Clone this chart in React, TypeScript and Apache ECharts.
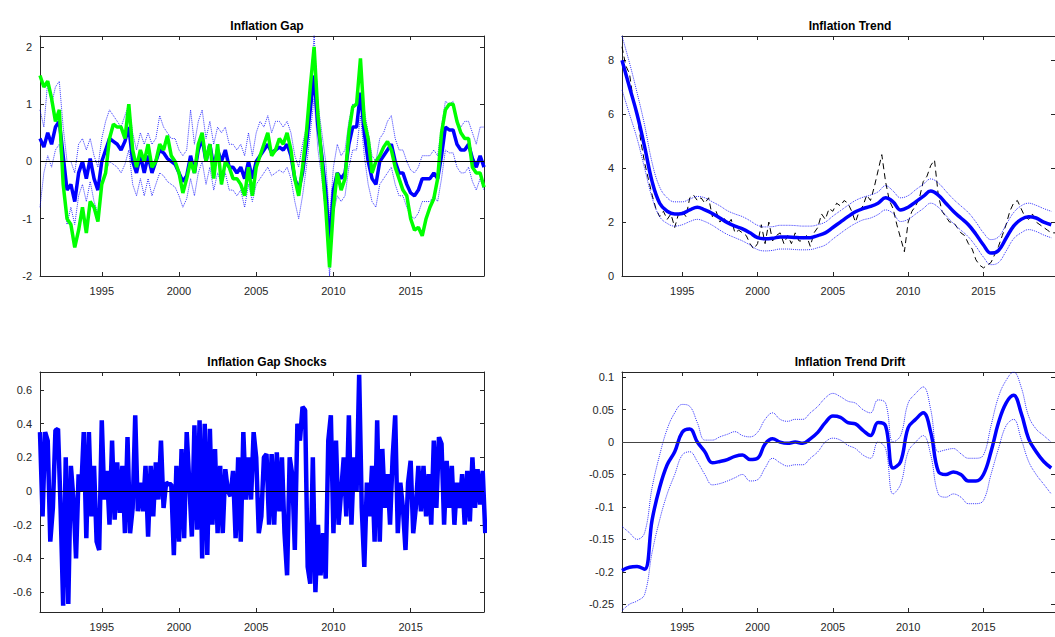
import * as echarts from 'echarts';
import { useEffect, useRef } from 'react';

// quarterly series start at 1991Q1
const Q_START = 1991;
const Q_STEP = 0.25;
// semiannual series
const H_STEP = 0.5;
// shocks: six points per year
const S_STEP = 1 / 6;

const gapEstimate = [
  0.4, 0.25, 0.5, 0.3, 0.6, 0.7, 0.1, -0.5, -0.4, -0.7, -0.2, 0.0, -0.3, 0.05, -0.3, -0.5,
  0.0, 0.2, 0.4, 0.35, 0.3, 0.2, 0.35, 0.6, 0.0, -0.2, 0.1, -0.2, 0.1, -0.2, 0.0, 0.2,
  0.15, 0.05, 0.0, -0.05, -0.2, -0.35, -0.25, 0.1, -0.2, 0.2, 0.4, 0.0, 0.3, -0.1, 0.2, 0.0,
  0.2, -0.1, -0.1, -0.2, -0.1, -0.3, 0.0, -0.3, 0.0, 0.1, 0.2, 0.3, 0.15, 0.2, 0.25, 0.2,
  0.3, 0.1, -0.3, -0.5, -0.2, 0.3, 0.9, 1.5, 0.6, 0.1, -0.5, -1.45, -0.5, -0.2, -0.3, -0.2,
  0.3, 0.6, 0.6, 1.2, 0.5, 0.0, -0.3, -0.4, 0.0, 0.1, 0.2, 0.3, 0.0, -0.2, -0.2, -0.4,
  -0.55, -0.6, -0.5, -0.3, -0.3, -0.3, -0.2, -0.3, 0.1, 0.6, 0.55, 0.55, 0.3, 0.2, 0.2, 0.3,
  0.05, -0.1, 0.1, -0.1,
];
const gapUpper = [
  0.9, 0.6, 1.4, 1.0, 1.3, 1.4, 0.6, 0.0, 0.0, -0.2, 0.3, 0.4, 0.2, 0.4, 0.1, -0.1,
  0.4, 0.7, 0.9, 0.8, 0.7, 0.6, 0.8, 1.0, 0.5, 0.2, 0.5, 0.3, 0.5, 0.3, 0.4, 0.8,
  0.6, 0.5, 0.4, 0.4, 0.2, 0.1, 0.2, 0.9, 0.3, 0.7, 0.9, 0.4, 0.7, 0.3, 0.6, 0.5,
  0.6, 0.3, 0.3, 0.2, 0.3, 0.1, 0.5, 0.1, 0.5, 0.7, 0.6, 0.8, 0.5, 0.7, 0.7, 0.6,
  0.7, 0.5, 0.1, -0.1, 0.3, 0.6, 1.3, 2.2, 1.0, 0.5, 0.0, -1.0, -0.1, 0.3, 0.1, 0.2,
  0.7, 1.0, 1.0, 1.6, 0.9, 0.5, 0.1, 0.0, 0.4, 0.5, 0.7, 0.8, 0.4, 0.2, 0.2, 0.0,
  -0.15, -0.2, -0.1, 0.1, 0.1, 0.1, 0.2, 0.1, 0.6, 1.05, 1.0, 1.05, 0.7, 0.6, 0.7, 0.7,
  0.5, 0.3, 0.6, 0.6,
];
const gapLower = [
  -0.8, -0.2, 0.1, -0.1, 0.2, 0.3, -0.3, -1.1, -0.8, -1.1, -0.6, -0.4, -0.7, -0.35, -0.7, -0.9,
  -0.4, -0.2, 0.0, -0.05, -0.1, -0.2, -0.05, 0.2, -0.4, -0.6, -0.3, -0.6, -0.3, -0.6, -0.4, -0.2,
  -0.25, -0.35, -0.4, -0.45, -0.6, -0.8, -0.65, -0.3, -0.6, -0.2, 0.0, -0.4, -0.1, -0.5, -0.2, -0.4,
  -0.2, -0.5, -0.5, -0.6, -0.5, -0.8, -0.4, -0.7, -0.4, -0.3, -0.2, -0.1, -0.25, -0.2, -0.15, -0.2,
  -0.1, -0.3, -0.7, -1.0, -0.6, -0.1, 0.5, 1.1, 0.2, -0.3, -0.9, -2.0, -0.9, -0.6, -0.7, -0.6,
  -0.1, 0.2, 0.2, 0.8, 0.1, -0.4, -0.7, -0.8, -0.4, -0.3, -0.2, -0.1, -0.4, -0.6, -0.6, -0.8,
  -0.95, -1.0, -0.9, -0.7, -0.7, -0.7, -0.6, -0.7, -0.3, 0.2, 0.15, 0.15, -0.1, -0.2, -0.2, -0.1,
  -0.35, -0.5, -0.3, -0.5,
];
const gapAlt = [
  1.5, 1.3, 1.4, 1.1, 0.7, 0.9, -0.4, -1.0, -1.1, -1.5, -1.2, -0.8, -1.25, -0.7, -0.8, -1.05,
  -0.4, -0.2, 0.4, 0.65, 0.6, 0.6, 0.4, 1.0, 0.2, -0.1, 0.2, 0.0, 0.3, -0.1, 0.0, 0.3,
  0.2, 0.45, 0.1, 0.0, -0.2, -0.55, -0.3, 0.0, -0.2, 0.3, 0.5, 0.0, 0.3, -0.3, 0.3, -0.4,
  0.0, -0.1, -0.3, -0.3, -0.4, -0.6, -0.1, -0.6, -0.1, 0.1, 0.3, 0.5, 0.1, 0.2, 0.4, 0.3,
  0.5, 0.2, -0.3, -0.6, -0.1, 0.5, 1.3, 2.0, 0.8, 0.0, -0.8, -1.85, -0.8, -0.2, -0.5, -0.3,
  0.5, 0.95, 1.0, 1.8, 0.7, 0.4, -0.2, 0.0, 0.1, 0.25, 0.35, 0.2, -0.1, -0.3, -0.5, -0.6,
  -1.0, -1.2, -1.15, -1.3, -1.0, -0.8, -0.65, -0.3, 0.5, 0.9, 1.0, 1.0, 0.7, 0.5, 0.4, 0.4,
  -0.1, -0.2, -0.2, -0.45,
];

const inflationActual = [
  8.5, 7.8, 7.5, 6.5, 6.0, 5.0, 4.2, 3.6, 3.0, 2.5, 2.2, 2.4, 2.1, 2.3, 1.8, 2.3,
  2.4, 2.2, 2.9, 3.0, 2.8, 2.9, 2.7, 2.9, 2.2, 2.4, 2.0, 2.2, 1.9, 2.1, 1.6, 1.7,
  1.6, 1.5, 1.2, 1.0, 1.2, 1.9, 1.2, 2.0, 1.3, 1.5, 1.6, 1.2, 1.5, 1.2, 1.6, 1.3,
  1.3, 1.5, 1.1, 1.6, 1.8, 2.3, 2.1, 2.5, 2.4, 2.7, 2.6, 2.8, 2.7, 2.4, 2.0, 2.4,
  2.6, 3.0, 2.8, 3.3, 3.9, 4.5, 3.5, 2.8, 2.5, 1.9, 1.4, 0.9, 2.0, 2.4, 2.6, 2.9,
  3.5, 3.7, 4.1, 4.3, 3.0, 2.4, 2.2, 2.0, 2.0, 1.8, 1.6, 1.5, 1.2, 1.0, 0.6, 0.4,
  0.3, 0.4, 0.5, 0.8, 1.1, 1.5, 1.9, 2.4, 2.7, 2.8, 2.5, 2.2, 2.1, 2.3, 2.0, 1.9,
  1.8, 1.7, 1.6, 1.6,
];
const trendEstimate = [
  8.0, 7.0, 6.0, 4.8, 3.5, 2.7, 2.4, 2.3, 2.32, 2.45, 2.55, 2.45, 2.32, 2.15, 1.98, 1.85,
  1.75, 1.6, 1.42, 1.38, 1.4, 1.45, 1.45, 1.43, 1.42, 1.42, 1.5, 1.6, 1.8, 2.0, 2.2, 2.38,
  2.5, 2.58, 2.7, 2.9, 2.75, 2.45, 2.55, 2.75, 2.95, 3.15, 3.0, 2.7, 2.4, 2.15, 1.9, 1.55,
  1.15, 0.85, 0.95, 1.4, 1.85, 2.1, 2.2, 2.15, 2.0, 1.9,
];
const trendUpper = [
  8.9, 7.9, 6.8, 5.6, 4.2, 3.3, 2.9, 2.75, 2.75, 2.85, 2.95, 2.9, 2.75, 2.6, 2.42, 2.3,
  2.2, 2.05, 1.88, 1.82, 1.83, 1.88, 1.88, 1.87, 1.85, 1.85, 1.9, 2.0, 2.22, 2.42, 2.62, 2.8,
  2.92, 3.0, 3.12, 3.35, 3.15, 2.9, 2.98, 3.2, 3.4, 3.6, 3.45, 3.15, 2.85, 2.6, 2.35, 2.0,
  1.6, 1.35, 1.45, 1.9, 2.35, 2.6, 2.7, 2.62, 2.5, 2.4,
];
const trendLower = [
  6.9, 6.0, 5.1, 4.0, 2.9, 2.2, 1.95, 1.85, 1.9, 2.02, 2.1, 2.02, 1.88, 1.7, 1.54, 1.42,
  1.3, 1.15, 0.98, 0.93, 0.95, 1.0, 1.0, 0.98, 0.97, 0.98, 1.05, 1.15, 1.37, 1.58, 1.78, 1.95,
  2.08, 2.15, 2.28, 2.45, 2.32, 2.02, 2.1, 2.3, 2.5, 2.7, 2.55, 2.25, 1.95, 1.7, 1.45, 1.1,
  0.7, 0.42, 0.5, 0.92, 1.38, 1.6, 1.72, 1.65, 1.52, 1.42,
];

const gapShocks = [
  0.35, -0.15, 0.35, 0.3, -0.3, -0.1, 0.36, 0.37, -0.1, -0.68, 0.2, -0.67,
  0.15, -0.05, -0.4, 0.1, 0.0, 0.35, -0.28, 0.35, -0.15, 0.15, -0.3, -0.35,
  0.42, -0.05, 0.12, -0.2, 0.3, -0.17, 0.17, -0.13, 0.15, -0.25, 0.32, -0.25,
  -0.1, 0.45, -0.12, 0.05, -0.12, 0.15, -0.27, 0.15, -0.15, 0.17, -0.05, 0.3,
  -0.1, 0.05, 0.04, 0.04, -0.38, 0.15, -0.3, 0.25, -0.28, 0.35, 0.05, -0.27,
  0.39, -0.23, 0.42, -0.4, 0.4, -0.38, 0.37, -0.2, 0.25, -0.25, 0.15, -0.25,
  0.13, 0.0, -0.03, 0.12, -0.28, 0.2, -0.3, 0.35, -0.05, 0.2, -0.05, 0.35,
  0.2, -0.25, -0.15, 0.2, 0.22, -0.2, 0.22, -0.2, 0.23, -0.12, 0.2, -0.25,
  -0.5, 0.2, 0.1, -0.35, 0.4, 0.3, 0.5, 0.48, -0.45, -0.55, 0.2, -0.6,
  -0.2, -0.5, -0.25, -0.52, 0.3, 0.45, -0.25, 0.3, -0.2, 0.0, 0.2, -0.15,
  0.45, -0.2, 0.2, 0.0, 0.69, -0.1, -0.45, 0.05, -0.15, 0.15, -0.3, 0.42,
  -0.3, 0.25, -0.1, 0.1, -0.2, 0.2, 0.45, -0.25, 0.05, -0.1, -0.35, 0.05,
  0.18, -0.25, -0.1, 0.15, -0.12, 0.15, -0.15, 0.1, -0.2, 0.3, -0.1, 0.32,
  0.28, -0.2, 0.18, -0.1, 0.15, -0.2, 0.05, -0.1, 0.1, -0.2, 0.12, -0.18,
  0.2, -0.1, 0.13, -0.08, 0.12, -0.25,
];

const trendDrift = [
  -0.198, -0.193, -0.192, -0.196, -0.12, -0.07, -0.035, -0.015, 0.015, 0.02, 0.0, -0.015,
  -0.032, -0.03, -0.027, -0.022, -0.02, -0.027, -0.025, -0.003, 0.005, 0.0, -0.002, 0.0,
  -0.002, 0.005, 0.015, 0.03, 0.04, 0.038, 0.03, 0.028, 0.018, 0.01, 0.03, 0.025,
  -0.04, -0.03, 0.022, 0.035, 0.045, 0.015, -0.045, -0.05, -0.046, -0.05, -0.06, -0.06,
  -0.05, -0.015, 0.03, 0.06, 0.072, 0.045, 0.005, -0.015, -0.03, -0.04,
];
const driftUpper = [
  -0.13, -0.14, -0.15, -0.14, -0.07, -0.02, 0.02, 0.045, 0.058, 0.055, 0.03, 0.003,
  0.003, 0.008, 0.012, 0.016, 0.01, 0.008, 0.015, 0.035, 0.045, 0.035, 0.032, 0.035,
  0.035, 0.045, 0.055, 0.068, 0.075, 0.07, 0.063, 0.06, 0.05, 0.045, 0.065, 0.06,
  0.0, 0.01, 0.06, 0.075, 0.085, 0.05, -0.015, -0.012, -0.01, -0.018, -0.025, -0.025,
  -0.02, 0.025, 0.07, 0.095, 0.108, 0.085, 0.04, 0.02, 0.01, 0.0,
];
const driftLower = [
  -0.26, -0.25, -0.245, -0.235, -0.17, -0.12, -0.08, -0.05, -0.02, -0.015, -0.03, -0.05,
  -0.066, -0.064, -0.06, -0.055, -0.05, -0.06, -0.058, -0.04, -0.025, -0.032, -0.037, -0.035,
  -0.035, -0.025, -0.015, 0.0, 0.006, 0.003, -0.005, -0.01, -0.02, -0.025, 0.0, -0.01,
  -0.08, -0.065, -0.015, 0.0, 0.01, -0.02, -0.08, -0.085, -0.08, -0.085, -0.095, -0.095,
  -0.09, -0.05, -0.01, 0.025, 0.035, 0.005, -0.03, -0.05, -0.065, -0.08,
];

const yearTicks = [1995, 2000, 2005, 2010, 2015];
const gapTicks = [-2, -1, 0, 1, 2];
const trendTicks = [0, 2, 4, 6, 8];
const shockTicks = [-0.6, -0.4, -0.2, 0, 0.2, 0.4, 0.6];
const driftTicks = [-0.25, -0.2, -0.15, -0.1, -0.05, 0, 0.05, 0.1];

const titles = ['Inflation Gap', 'Inflation Trend', 'Inflation Gap Shocks', 'Inflation Trend Drift'];

const pairs = (step: number, arr: number[]) => arr.map((v, i) => [Q_START + i * step, v]);

const AXIS = '#262626';
const BLUE = '#0000ff';
const FONT = 'Liberation Sans';

const grids = [
  { left: 40, top: 36, width: 444, height: 240 },
  { left: 622, top: 36, width: 446, height: 240 },
  { left: 40, top: 372, width: 444, height: 240 },
  { left: 622, top: 372, width: 446, height: 240 },
];
const yRanges: [number, number, number[]][] = [
  [-2, 2.19, gapTicks],
  [0, 8.9, trendTicks],
  [-0.718, 0.707, shockTicks],
  [-0.262, 0.108, driftTicks],
];

export default function App() {
  const ref = useRef<HTMLDivElement>(null);

  useEffect(() => {
    const chart = echarts.init(ref.current!, undefined, { renderer: 'svg' });

    const xAxis: any[] = [];
    const yAxis: any[] = [];
    grids.forEach((_, g) => {
      for (const pos of ['bottom', 'top']) {
        xAxis.push({
          type: 'value', gridIndex: g, position: pos, min: 1991, max: 2019.75,
          axisLine: { show: true, onZero: false, lineStyle: { color: AXIS } },
          axisTick: { show: true, inside: true, length: 4, customValues: yearTicks, lineStyle: { color: AXIS } },
          axisLabel: {
            show: pos === 'bottom', customValues: yearTicks, color: AXIS, fontSize: 11, fontFamily: FONT, margin: 9,
            formatter: (v: number) => String(v),
          },
          splitLine: { show: false },
        });
      }
      const [min, max, ticks] = yRanges[g];
      for (const pos of ['left', 'right']) {
        yAxis.push({
          type: 'value', gridIndex: g, position: pos, min, max,
          axisLine: { show: true, onZero: false, lineStyle: { color: AXIS } },
          axisTick: { show: true, inside: true, length: 4, customValues: ticks, lineStyle: { color: AXIS } },
          axisLabel: { show: pos === 'left', customValues: ticks, color: AXIS, fontSize: 11, fontFamily: FONT, margin: 8 },
          splitLine: { show: false },
        });
      }
    });

    const line = (g: number, data: number[][], style: any, extra: any = {}) => ({
      type: 'line', xAxisIndex: g * 2, yAxisIndex: g * 2, data, showSymbol: false,
      symbol: 'none', lineStyle: style, silent: true, ...extra,
    });
    const zero = (color: string) => ({
      markLine: {
        silent: true, symbol: 'none', label: { show: false },
        lineStyle: { color, width: 1, type: 'solid' }, data: [{ yAxis: 0 }],
      },
    });
    const dotted = { color: BLUE, width: 1, type: 'dotted', opacity: 0.8 };

    chart.setOption({
      animation: false,
      title: titles.map((t, i) => ({
        text: t, left: grids[i].left + grids[i].width / 2, top: grids[i].top - 21, textAlign: 'center',
        textStyle: { fontSize: 12, fontWeight: 'bold', color: '#000', fontFamily: FONT },
      })),
      grid: grids,
      xAxis,
      yAxis,
      series: [
        line(0, pairs(Q_STEP, gapUpper), dotted),
        line(0, pairs(Q_STEP, gapLower), dotted),
        line(0, pairs(Q_STEP, gapEstimate), { color: BLUE, width: 3.5 }),
        line(0, pairs(Q_STEP, gapAlt), { color: '#00ff00', width: 3.5 }, zero('#000')),

        line(1, pairs(Q_STEP, inflationActual), { color: '#000', width: 1, type: [6, 4] }),
        line(1, pairs(H_STEP, trendUpper), dotted, { smooth: 0.4 }),
        line(1, pairs(H_STEP, trendLower), dotted, { smooth: 0.4 }),
        line(1, pairs(H_STEP, trendEstimate), { color: BLUE, width: 3.5 }, { smooth: 0.4 }),

        line(2, pairs(S_STEP, gapShocks), { color: BLUE, width: 4.5 }, zero('#000')),

        line(3, pairs(H_STEP, driftUpper), dotted, { smooth: 0.4 }),
        line(3, pairs(H_STEP, driftLower), dotted, { smooth: 0.4 }),
        line(3, pairs(H_STEP, trendDrift), { color: BLUE, width: 3.5 }, { smooth: 0.4, ...zero('#444') }),
      ],
    });
    return () => chart.dispose();
  }, []);

  return <div ref={ref} style={{ position: 'absolute', left: 0, top: 0, width: 1055, height: 637, background: '#fff' }} />;
}
